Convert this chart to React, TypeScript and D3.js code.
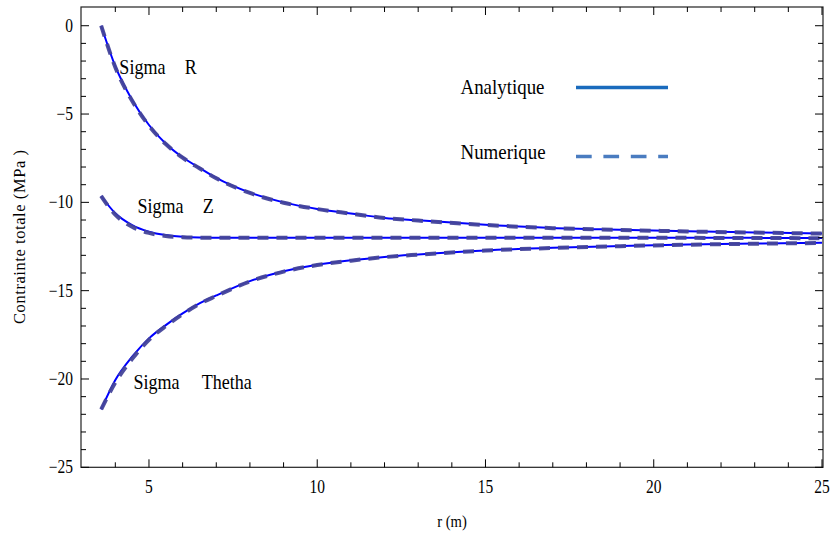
import React from "react";
import * as d3 from "d3";

// r (m)
const rValues = [3.58, 4.0, 4.5, 5.0, 5.5, 6.0, 6.5, 7.0, 8.0, 9.0, 10.0, 11.0, 12.0, 13.0, 15.0, 17.0, 19.0, 21.0, 23.0, 25.0];

// Analytique (MPa)
const sigmaRAna = [0, -2.3, -4.2, -5.62, -6.68, -7.45, -8.05, -8.62, -9.45, -10.0, -10.37, -10.63, -10.88, -11.02, -11.27, -11.45, -11.55, -11.64, -11.7, -11.76];
const sigmaZAna = [-9.64, -10.62, -11.29, -11.66, -11.85, -11.95, -11.99, -12.0, -12.0, -12.0, -12.0, -12.0, -12.0, -12.0, -12.0, -12.0, -12.0, -12.0, -12.01, -12.02];
const sigmaThetaAna = [-21.72, -20.06, -18.74, -17.7, -16.95, -16.29, -15.72, -15.27, -14.46, -13.9, -13.53, -13.28, -13.09, -12.95, -12.72, -12.57, -12.47, -12.39, -12.33, -12.29];

// Numerique (MPa)
const sigmaRNum = [0, -2.35, -4.25, -5.66, -6.7, -7.47, -8.07, -8.64, -9.47, -10.02, -10.38, -10.64, -10.89, -11.03, -11.28, -11.46, -11.56, -11.65, -11.71, -11.77];
const sigmaZNum = [-9.64, -10.7, -11.38, -11.73, -11.9, -11.97, -12.0, -12.01, -12.01, -12.01, -12.01, -12.01, -12.01, -12.01, -12.01, -12.01, -12.01, -12.01, -12.02, -12.03];
const sigmaThetaNum = [-21.72, -20.2, -18.86, -17.78, -17.0, -16.33, -15.75, -15.3, -14.48, -13.92, -13.55, -13.3, -13.1, -12.96, -12.73, -12.58, -12.48, -12.4, -12.34, -12.3];

const xMajorTicks = [5, 10, 15, 20, 25];
const yMajorTicks = [0, -5, -10, -15, -20, -25];

// curve labels: anchor in data units (r, MPa)
const curveLabels = [
  { a: "Sigma", b: "R", r: 4.12, v: -2.76 },
  { a: "Sigma", b: "Z", r: 4.66, v: -10.62 },
  { a: "Sigma", b: "Thetha", r: 4.54, v: -20.54 },
];
const labelGaps = [65.4, 65.2, 68.2];

const FONT = "'Liberation Serif', 'Times New Roman', serif";

function T({ x, y, children, anchor = "start", size = 18, sx = 0.86, rotate = 0, len, adjust }: any) {
  return (
    <text
      transform={`translate(${x},${y}) rotate(${rotate}) scale(${sx},1)`}
      textAnchor={anchor}
      fontFamily={FONT}
      fontSize={size}
      fill="#000"
      textLength={len}
      lengthAdjust={len ? adjust || "spacingAndGlyphs" : undefined}
    >
      {children}
    </text>
  );
}

export default function App() {
  const W = 837, H = 535;
  const L = 81, R = 823, TOP = 7, B = 467.3;
  const x = d3.scaleLinear().domain([2.98, 25.03]).range([L, R]);
  const y = d3.scaleLinear().domain([-25, 1.06]).range([B, TOP]);
  const line = d3
    .line<number>()
    .x((_, i) => x(rValues[i]))
    .y((d) => y(d))
    .curve(d3.curveMonotoneX);

  const xMinor = d3.range(4, 26, 1).filter((v) => !xMajorTicks.includes(v));
  const yMinor = d3.range(-24, 1, 1).filter((v) => !yMajorTicks.includes(v));

  const ana = [sigmaRAna, sigmaZAna, sigmaThetaAna];
  const num = [sigmaRNum, sigmaZNum, sigmaThetaNum];

  const fmt = (v: number) => (v < 0 ? "\u2212" + Math.abs(v) : String(v));

  return (
    <svg width={W} height={H} style={{ position: "absolute", left: 0, top: 0, background: "#fff" }}>
      <rect x={0} y={0} width={W} height={H} fill="#fff" />
      {/* curves */}
      {ana.map((d, i) => (
        <path key={"a" + i} d={line(d) || ""} fill="none" stroke="#0000ff" strokeWidth={2} />
      ))}
      {num.map((d, i) => (
        <path
          key={"n" + i}
          d={line(d) || ""}
          fill="none"
          stroke="#45459a"
          strokeWidth={4}
          strokeDasharray="11,8"
          opacity={0.95}
        />
      ))}
      {/* frame */}
      <rect x={L} y={TOP} width={R - L} height={B - TOP} fill="none" stroke="#222" strokeWidth={1.2} />
      {/* x ticks */}
      {xMajorTicks.map((v) => (
        <g key={"xm" + v}>
          <line x1={x(v)} x2={x(v)} y1={B} y2={B - 8} stroke="#000" />
          <line x1={x(v)} x2={x(v)} y1={TOP} y2={TOP + 8} stroke="#000" />
          <T x={x(v)} y={493} anchor="middle" size={18}>{String(v)}</T>
        </g>
      ))}
      {xMinor.map((v) => (
        <g key={"xn" + v}>
          <line x1={x(v)} x2={x(v)} y1={B} y2={B - 5} stroke="#000" />
          <line x1={x(v)} x2={x(v)} y1={TOP} y2={TOP + 5} stroke="#000" />
        </g>
      ))}
      {/* y ticks */}
      {yMajorTicks.map((v) => (
        <g key={"ym" + v}>
          <line x1={L} x2={L + 8} y1={y(v)} y2={y(v)} stroke="#000" />
          <line x1={R} x2={R - 8} y1={y(v)} y2={y(v)} stroke="#000" />
          <T x={73} y={y(v) + 6} anchor="end" size={18}>{fmt(v)}</T>
        </g>
      ))}
      {yMinor.map((v) => (
        <g key={"yn" + v}>
          <line x1={L} x2={L + 5} y1={y(v)} y2={y(v)} stroke="#000" />
          <line x1={R} x2={R - 5} y1={y(v)} y2={y(v)} stroke="#000" />
        </g>
      ))}
      {/* axis labels */}
      <T x={452} y={527} anchor="middle" size={17}>r (m)</T>
      <T x={25} y={237} anchor="middle" size={16.5} sx={1} rotate={-90} len={174} adjust="spacing">Contrainte totale (MPa )</T>
      {/* curve labels */}
      {curveLabels.map((lb, i) => (
        <g key={"lb" + i}>
          <T x={x(lb.r)} y={y(lb.v)} size={22} sx={0.82}>{lb.a}</T>
          <T x={x(lb.r) + labelGaps[i]} y={y(lb.v)} size={22} sx={0.82}>{lb.b}</T>
        </g>
      ))}
      {/* legend */}
      <T x={460.5} y={93.5} size={22} sx={0.86}>Analytique</T>
      <line x1={576} x2={668} y1={87.5} y2={87.5} stroke="#1a6bbd" strokeWidth={3.4} />
      <T x={460.5} y={159} size={22} sx={0.86}>Numerique</T>
      <line x1={576} x2={668} y1={156.5} y2={156.5} stroke="#4a7cc0" strokeWidth={3.4} strokeDasharray="15.7,11.7" />
    </svg>
  );
}
